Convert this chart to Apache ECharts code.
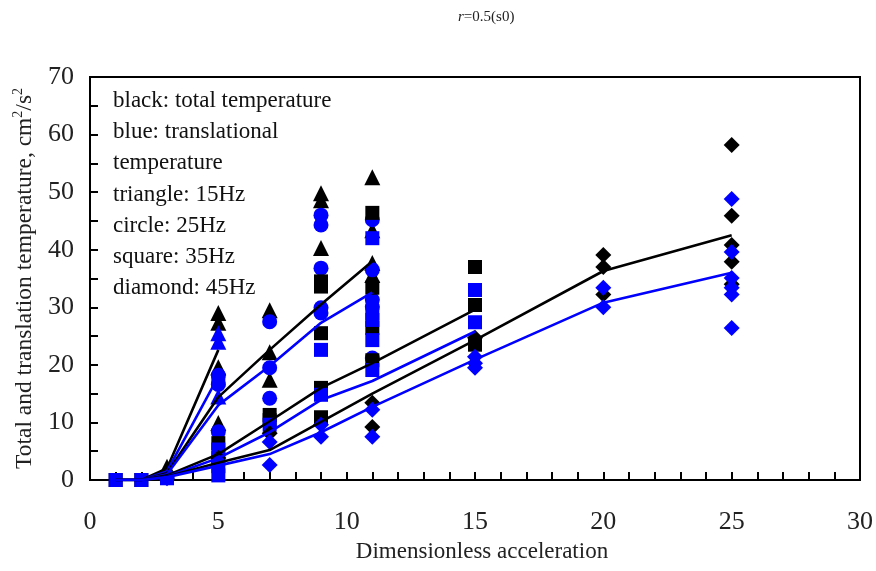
<!DOCTYPE html>
<html>
<head>
<meta charset="utf-8">
<script src="https://cdn.jsdelivr.net/npm/echarts@6/dist/echarts.min.js"></script>
<style>
  html, body { margin: 0; padding: 0; background: #fff; }
  #chart { width: 876px; height: 571px; }
</style>
</head>
<body>
<div id="chart"></div>
<script>
// Granular temperature vs. dimensionless acceleration, r = 0.5 (s0)
// Black marks: total temperature; blue marks: translational temperature.

const BLACK = '#000000';
const BLUE = '#0000ff';
const SERIF = '"Liberation Serif", "DejaVu Serif", serif';

// Measured points [dimensionless acceleration, temperature (cm^2/s^2)]
const triangleTotal = [[3, 2.3], [5, 29.0], [5, 27.3], [5, 19.6], [5, 9.9], [7, 29.5], [7, 22.2], [7, 17.4],
  [9, 49.8], [9, 48.6], [9, 40.3], [11, 52.6], [11, 43.4], [11, 37.7], [11, 35.6]];
const triangleTrans = [[5, 25.5], [5, 24.0], [5, 14.5]];
const circleTrans = [[3, 0.5], [5, 18.2], [5, 16.6], [5, 8.4], [7, 27.5], [7, 19.5], [7, 14.2],
  [9, 46.0], [9, 44.3], [9, 36.8], [9, 29.9], [9, 29.0],
  [11, 45.2], [11, 36.5], [11, 31.3], [11, 30.1], [11, 21.2]];
const squareTotal = [[1, 0], [2, 0], [5, 6.4], [7, 11.3], [7, 10.4],
  [9, 34.5], [9, 33.6], [9, 25.5], [9, 16.0], [9, 10.9],
  [11, 46.4], [11, 33.4], [11, 26.4], [11, 20.8], [15, 37.0], [15, 30.4], [15, 23.5]];
const squareTrans = [[1, 0], [2, 0], [3, 0.3], [5, 17.4], [5, 5.3], [5, 3.8], [5, 2.4], [5, 0.8],
  [7, 9.6], [9, 22.6], [9, 14.8],
  [11, 42.0], [11, 28.9], [11, 27.8], [11, 24.3], [11, 19.1], [15, 33.0], [15, 27.4]];
const diamondTotal = [[5, 3.8], [7, 8.1], [11, 13.4], [11, 9.2], [15, 24.7],
  [20, 39.1], [20, 37.0], [20, 32.2], [25, 58.2], [25, 45.9], [25, 40.8], [25, 37.9], [25, 34.0]];
const diamondTrans = [[3, 0.3], [5, 3.2], [7, 6.6], [7, 2.6], [9, 9.6], [9, 7.5], [11, 12.2], [11, 7.5],
  [15, 21.4], [15, 20.3], [15, 19.5], [20, 33.4], [20, 30.0],
  [25, 48.8], [25, 39.6], [25, 35.1], [25, 33.4], [25, 32.2], [25, 26.4]];

// Trend curves
const curveX1 = [1, 2, 3, 5];
const curve1Total = [0, 0, 2.0, 22.6];
const curve1Trans = [0, 0, 1.5, 18.0];
const curveX2 = [1, 2, 3, 5, 7, 9, 11];
const curve2Total = [0, 0, 1.2, 14.4, 22.6, 30.5, 38.0];
const curve2Trans = [0, 0, 1.0, 13.0, 19.8, 27.3, 32.6];
const curveX3 = [1, 2, 3, 5, 7, 9, 11, 15];
const curve3Total = [0, 0, 0.8, 4.5, 10.2, 16.0, 20.3, 29.6];
const curve3Trans = [0, 0, 0.6, 3.8, 8.3, 13.9, 17.2, 25.8];
const curveX4 = [1, 2, 3, 5, 7, 9, 11, 15, 20, 25];
const curve4Total = [0, 0, 0.6, 3.0, 5.2, 10.1, 15.0, 24.3, 36.3, 42.5];
const curve4Trans = [0, 0, 0.5, 2.5, 4.5, 8.3, 12.7, 20.9, 30.8, 36.0];

const xTicks = [0, 5, 10, 15, 20, 25, 30];
const yTicks = [0, 10, 20, 30, 40, 50, 60, 70];

const noteLines = ['black: total temperature', 'blue: translational', 'temperature',
  'triangle: 15Hz', 'circle: 25Hz', 'square: 35Hz', 'diamond: 45Hz'];

const zip = (xs, ys) => xs.map((x, i) => [x, ys[i]]);

function scatter(data, symbol, size, color) {
  return {
    type: 'scatter', data, symbol, symbolSize: size,
    itemStyle: { color, opacity: 1 }, z: 2, silent: true
  };
}
function curve(xs, ys, color) {
  return {
    type: 'line', data: zip(xs, ys), showSymbol: false, symbol: 'none',
    lineStyle: { color, width: 2.6 }, z: 3, silent: true
  };
}

const chart = echarts.init(document.getElementById('chart'), null, { renderer: 'canvas' });
chart.setOption({
  animation: false,
  backgroundColor: '#fff',
  title: {
    text: '{i|r}{n|=0.5(s0)}',
    left: 453, top: 5,
    textStyle: {
      fontWeight: 'normal',
      rich: {
        i: { fontFamily: SERIF, fontStyle: 'italic', fontWeight: 'normal', fontSize: 15, color: '#222' },
        n: { fontFamily: SERIF, fontWeight: 'normal', fontSize: 15, color: '#222' }
      }
    }
  },
  grid: {
    left: 90, right: 14, top: 77, bottom: 91,
    show: true, borderColor: BLACK, borderWidth: 2, backgroundColor: 'transparent'
  },
  graphic: [{
    type: 'text', left: 113, top: 85, silent: true,
    style: {
      text: noteLines.join('\n'),
      font: '23px ' + SERIF, lineHeight: 31.3, fill: '#111'
    }
  }],
  xAxis: {
    type: 'value', min: 0, max: 30, interval: 1,
    name: 'Dimensionless acceleration', nameLocation: 'middle', nameGap: 60,
    nameTextStyle: { fontFamily: SERIF, fontSize: 23, color: '#222', padding: [0, 0, 0, 14] },
    axisLine: { lineStyle: { color: BLACK, width: 2 } },
    axisTick: { inside: true, length: 8, lineStyle: { color: BLACK, width: 2 } },
    axisLabel: {
      margin: 29, fontFamily: SERIF, fontSize: 26, color: '#222',
      formatter: v => (xTicks.includes(v) ? String(v) : '')
    },
    splitLine: { show: false }
  },
  yAxis: {
    type: 'value', min: 0, max: 70, interval: 5,
    name: 'Total and translation temperature, cm{sup|2}/s{sup|2}',
    nameLocation: 'middle', nameGap: 50,
    nameTextStyle: {
      fontFamily: SERIF, fontSize: 23.5, color: '#222',
      rich: { sup: { fontFamily: SERIF, fontSize: 14, color: '#222', padding: [0, 0, 13, 0] } }
    },
    axisLine: { lineStyle: { color: BLACK, width: 2 } },
    axisTick: { inside: true, length: 8, lineStyle: { color: BLACK, width: 2 } },
    axisLabel: {
      margin: 16, fontFamily: SERIF, fontSize: 26, color: '#222',
      formatter: v => (yTicks.includes(v) ? String(v) : '')
    },
    splitLine: { show: false }
  },
  series: [
    scatter(triangleTotal, 'triangle', 16, BLACK),
    scatter(triangleTrans, 'triangle', 16, BLUE),
    scatter(circleTrans, 'circle', 15, BLUE),
    scatter(squareTotal, 'rect', 14, BLACK),
    scatter(squareTrans, 'rect', 14, BLUE),
    scatter(diamondTotal, 'diamond', 16, BLACK),
    scatter(diamondTrans, 'diamond', 16, BLUE),
    curve(curveX1, curve1Total, BLACK),
    curve(curveX1, curve1Trans, BLUE),
    curve(curveX2, curve2Total, BLACK),
    curve(curveX2, curve2Trans, BLUE),
    curve(curveX3, curve3Total, BLACK),
    curve(curveX3, curve3Trans, BLUE),
    curve(curveX4, curve4Total, BLACK),
    curve(curveX4, curve4Trans, BLUE)
  ]
});
</script>
</body>
</html>
